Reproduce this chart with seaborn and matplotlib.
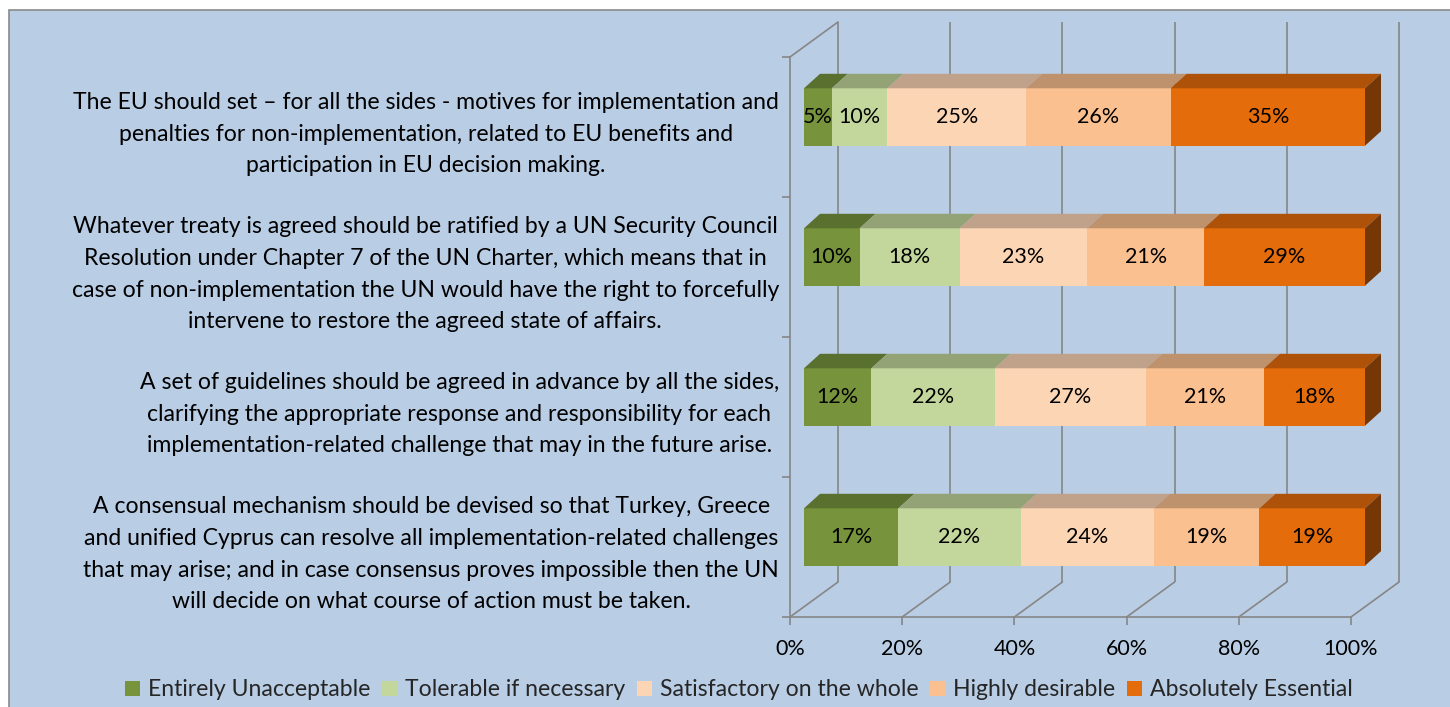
import numpy as np
import pandas as pd
import matplotlib.pyplot as plt
from matplotlib.patches import Polygon, Rectangle, Patch
from matplotlib.colors import to_rgb
import seaborn as sns

# ---- data ----
questions = [
    "The EU should set \u2013 for all the sides - motives for implementation and\n"
    "penalties for non-implementation, related to EU benefits and\n"
    "participation in EU decision making.",
    "Whatever treaty is agreed should be ratified by a UN Security Council\n"
    "Resolution under Chapter 7 of the UN Charter, which means that in\n"
    "case of non-implementation the UN would have the right to forcefully\n"
    "intervene to restore the agreed state of affairs.",
    "A set of guidelines should be agreed in advance by all the sides,\n"
    "clarifying the appropriate response and responsibility for each\n"
    "implementation-related challenge that may in the future arise.",
    "A consensual mechanism should be devised so that Turkey, Greece\n"
    "and unified Cyprus can resolve all implementation-related challenges\n"
    "that may arise; and in case consensus proves impossible then the UN\n"
    "will decide on what course of action must be taken.",
]
levels = ['Entirely Unacceptable', 'Tolerable if necessary',
          'Satisfactory on the whole', 'Highly desirable', 'Absolutely Essential']
colors = ['#77933C', '#C3D69B', '#FCD5B5', '#FAC090', '#E46C0A']

unacceptable = [5, 10, 12, 17]
tolerable = [10, 18, 22, 22]
satisfactory = [25, 23, 27, 24]
desirable = [26, 21, 21, 19]
essential = [35, 29, 18, 19]

xticks = [0, 20, 40, 60, 80, 100]

sns.set_theme(style='white')
plt.rcParams['font.family'] = ['Lato', 'DejaVu Sans']
FS_TXT = 16.6   # category labels / legend
FS_NUM = 15.5   # numbers
grid_c = '#868686'

df = pd.DataFrame(dict(zip(levels, [unacceptable, tolerable, satisfactory,
                                    desirable, essential])), index=questions)
shares = df.div(df.sum(axis=1), axis=0) * 100   # 100% stacked
cum = shares.cumsum(axis=1)


def shade(col, f):
    return tuple(c * f for c in to_rgb(col))


fig = plt.figure(figsize=(14.5, 7.07), dpi=100)
fig.add_artist(Rectangle((8.5 / 1450, -0.05), 1.0, 0.05 + (707 - 9.5) / 707,
                         transform=fig.transFigure, fc='#B9CDE5', ec='#8A8A8A',
                         lw=1.2, zorder=-1))
ax = fig.add_axes([790 / 1450, 90 / 707, 561 / 1450, 560 / 707])
ax.patch.set_alpha(0)

# pixel -> data units
px_x = 561 / 100
px_y = 560 / 4
bx, by = 14 / px_x, 10 / px_y        # bar front face behind front plane
bdx, bdy = 16 / px_x, 14.5 / px_y    # bar depth
wdx, wdy = 48 / px_x, 35 / px_y      # wall depth
bar_h = 0.41

# front faces, stacked by overdrawing cumulative totals
for lvl, col in reversed(list(zip(levels, colors))):
    sns.barplot(x=cum[lvl].values, y=questions, color=col, saturation=1,
                width=bar_h, linewidth=0, errorbar=None, orient='h', ax=ax,
                zorder=3)
for p in ax.patches:
    p.set_x(p.get_x() + bx)
    p.set_y(p.get_y() - by)
    p.set_clip_on(False)

# top / side faces and value labels
for i, q in enumerate(questions):
    yt = i - bar_h / 2 - by
    yb = i + bar_h / 2 - by
    left = 0
    for lvl, col in zip(levels, colors):
        right = cum.loc[q, lvl]
        ax.add_patch(Polygon([(left + bx, yt), (right + bx, yt),
                              (right + bx + bdx, yt - bdy), (left + bx + bdx, yt - bdy)],
                             closed=True, fc=shade(col, 0.76), lw=0, zorder=3,
                             clip_on=False))
        ax.text((left + right) / 2 + bx, i - by, f'{df.loc[q, lvl]}%',
                ha='center', va='center', fontsize=FS_NUM, color='black', zorder=5)
        left = right
    ax.add_patch(Polygon([(left + bx, yt), (left + bx + bdx, yt - bdy),
                          (left + bx + bdx, yb - bdy), (left + bx, yb)],
                         closed=True, fc=shade(colors[-1], 0.51), lw=0, zorder=3,
                         clip_on=False))

# back wall, floor and side wall lines
ax.vlines([t + wdx for t in xticks], -0.5 - wdy, 3.5 - wdy, color=grid_c,
          lw=1.2, zorder=1, clip_on=False)
for t in xticks:
    ax.plot([t, t + wdx], [3.5, 3.5 - wdy], color=grid_c, lw=1.2, zorder=1,
            clip_on=False)
ax.plot([0, wdx], [-0.5, -0.5 - wdy], color=grid_c, lw=1.2, zorder=1,
        clip_on=False)

ax.set_xlim(0, 100)
ax.set_ylim(3.5, -0.5)
for s in ['top', 'right']:
    ax.spines[s].set_visible(False)
for s in ['left', 'bottom']:
    ax.spines[s].set_color(grid_c)
    ax.spines[s].set_linewidth(1.2)

ax.set_xticks(xticks, [f'{t}%' for t in xticks])
ax.tick_params(axis='x', bottom=True, length=8 * 0.72, width=1.2, color=grid_c,
               pad=10, labelsize=FS_NUM, labelcolor='black')
ax.set_yticks(range(len(questions)), questions)
ax.set_yticks([-0.5, 0.5, 1.5, 2.5, 3.5], minor=True)
ax.tick_params(axis='y', which='major', left=False, length=0, pad=11 * 0.72,
               labelsize=FS_TXT, labelcolor='black')
ax.tick_params(axis='y', which='minor', left=True, length=8 * 0.72, width=1.2,
               color=grid_c)
for lab in ax.get_yticklabels():
    lab.set_multialignment('center')
    lab.set_linespacing(1.62)
ax.set_xlabel('')
ax.set_ylabel('')

handles = [Patch(fc=c, ec='none', label=l) for l, c in zip(levels, colors)]
fig.legend(handles=handles, loc='center', bbox_to_anchor=(739 / 1450, 1 - 690 / 707),
           ncol=5, frameon=False, fontsize=FS_TXT, handlelength=0.65, handleheight=0.65,
           handletextpad=0.35, columnspacing=0.5)

fig.savefig('out.png', dpi=100, facecolor='white')
